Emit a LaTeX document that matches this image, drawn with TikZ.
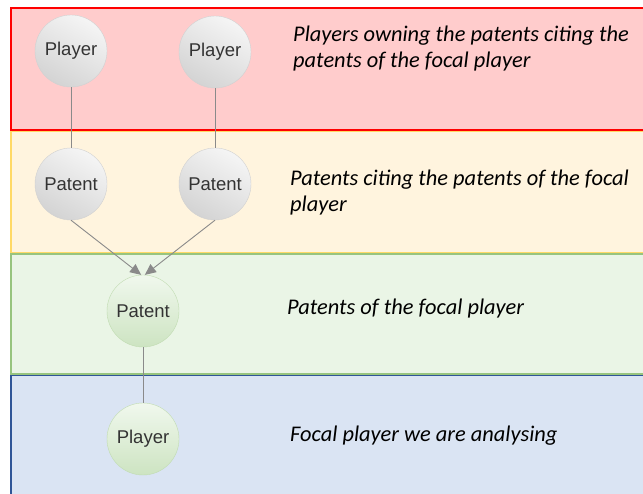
\documentclass[tikz,border=0pt]{standalone}
\usepackage{fontspec}
\setmainfont{Carlito}
\newfontfamily\nodefont{Liberation Sans}
\usetikzlibrary{arrows.meta}

\definecolor{redfill}{HTML}{FFCCCC}
\definecolor{redline}{HTML}{FF0000}
\definecolor{yellowfill}{HTML}{FFF4DE}
\definecolor{yellowline}{HTML}{FFD966}
\definecolor{greenfill}{HTML}{EAF5E6}
\definecolor{greenline}{HTML}{97C47E}
\definecolor{bluefill}{HTML}{DAE4F3}
\definecolor{blueline}{HTML}{2F5597}
\definecolor{edgegrey}{HTML}{8A8A8A}

\tikzset{
  band/.style={line width=1.5pt},
  greyball/.style={circle, minimum size=72pt, inner sep=0pt, draw=black!18,
    top color=black!4, bottom color=black!17, shading angle=-30,
    font=\nodefont\fontsize{18.5pt}{21pt}\selectfont, text=black!80},
  greenball/.style={greyball, draw=greenline!60, top color=greenfill!70,
    bottom color=greenline!35!greenfill},
  caption/.style={anchor=base west, align=left, inner sep=0pt,
    font=\itshape\fontsize{22.4pt}{26.5pt}\selectfont},
  link/.style={draw=edgegrey, line width=0.9pt},
  cite/.style={link, -{Triangle[length=11pt, width=10pt]}, edgegrey}
}

\begin{document}
\begin{tikzpicture}[x=1pt, y=-1pt]
\useasboundingbox (0,0) rectangle (643,494);
\clip (0,0) rectangle (643,494);

% layers
\draw [band, fill=bluefill, draw=blueline] (11,375.5) rectangle (660,510);
\draw [band, fill=greenfill, draw=greenline] (11,254) rectangle (660,374);
\draw [band, fill=yellowfill, draw=yellowline] (11,131) rectangle (660,252.5);
\draw [band, fill=redfill, draw=redline] (11,8) rectangle (660,130);

% nodes
\node [greyball] (player1) at (71,51) {Player};
\node [greyball] (player2) at (215,52) {Player};
\node [greyball] (patent1) at (71,184) {Patent};
\node [greyball] (patent2) at (215,184) {Patent};
\node [greenball] (focalpatent) at (143,311) {Patent};
\node [greenball] (focalplayer) at (143,439) {Player};

% edges
\draw [link] (player1) -- (patent1);
\draw [link] (player2) -- (patent2);
\draw [link] (focalpatent) -- (focalplayer);
\draw [cite] (patent1.south) -- (focalpatent.93);
\draw [cite] (patent2.south) -- (focalpatent.87);

% captions (base of last line)
\node [caption] (cap1) at (293,68) {Players owning the patents citing the\\patents of the focal player};
\node [caption] (cap2) at (290,212) {Patents citing the patents of the focal\\player};
\node [caption] (cap3) at (287,315) {Patents of the focal player};
\node [caption] (cap4) at (290,441) {Focal player we are analysing};

\end{tikzpicture}
\end{document}
